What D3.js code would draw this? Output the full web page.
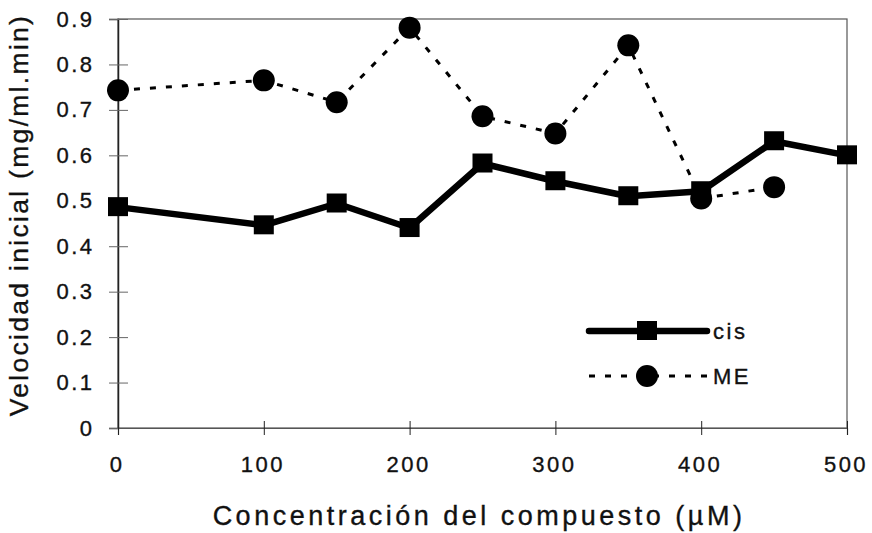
<!DOCTYPE html>
<html>
<head>
<meta charset="utf-8">
<script src="https://cdn.jsdelivr.net/npm/d3@7"></script>
<style>
  body { margin: 0; background: #fff; }
  text { font-family: "Liberation Sans", Arial, sans-serif; fill: #111; stroke: #111; stroke-width: 0.35; }
</style>
</head>
<body>
<script>
var w = 872;
var h = 533;

// data
var conc = [0, 100, 150, 200, 250, 300, 350, 400, 450, 500];
var cisValues = [0.486, 0.446, 0.494, 0.44, 0.582, 0.543, 0.51, 0.521, 0.631, 0.60];
var meConc = [0, 100, 150, 200, 250, 300, 350, 400, 450];
var meValues = [0.743, 0.765, 0.717, 0.881, 0.686, 0.648, 0.842, 0.505, 0.53];
var xTicks = [0, 100, 200, 300, 400, 500];
var yTicks = [0, 0.1, 0.2, 0.3, 0.4, 0.5, 0.6, 0.7, 0.8, 0.9];
var seriesNames = ["cis", "ME"];

var plotLeft = 118, plotRight = 847, plotTop = 19, plotBottom = 428;

var x = d3.scaleLinear().domain([0, 500]).range([plotLeft, plotRight]);
var y = d3.scaleLinear().domain([0, 0.9]).range([plotBottom, plotTop]);

var svg = d3.select("body").append("svg")
    .attr("width", w)
    .attr("height", h);

//---frame-----
svg.append("rect")
    .attr("x", plotLeft)
    .attr("y", plotTop)
    .attr("width", plotRight - plotLeft)
    .attr("height", plotBottom - plotTop)
    .attr("fill", "none")
    .attr("stroke", "#555")
    .attr("stroke-width", 1.2);

//---axes-----
var yAxis = svg.append("g")
    .attr("transform", "translate(" + plotLeft + ",0)")
    .call(d3.axisLeft(y).tickValues(yTicks).tickSize(9).tickPadding(14.5)
        .tickFormat(function (d) { return d === 0 ? "0" : d3.format(".1f")(d); }));
yAxis.select(".domain").attr("stroke", "#222").attr("stroke-width", 1.5);
yAxis.selectAll(".tick line").attr("x2", 10).attr("x1", -9).attr("stroke", "#666");
yAxis.selectAll("text").attr("font-size", 22).attr("fill", "#111")
    .attr("letter-spacing", 2.5)
    .attr("font-family", "Liberation Sans, Arial, sans-serif");

var xAxis = svg.append("g")
    .attr("transform", "translate(0," + plotBottom + ")")
    .call(d3.axisBottom(x).tickValues(xTicks).tickSize(7).tickPadding(21));
xAxis.select(".domain").attr("stroke", "#555").attr("stroke-width", 1.2);
xAxis.selectAll(".tick line").attr("y1", -7).attr("y2", 7).attr("stroke", "#222");
xAxis.selectAll("text").attr("font-size", 22).attr("fill", "#111")
    .attr("letter-spacing", 2.5)
    .attr("dx", -1.5)
    .attr("font-family", "Liberation Sans, Arial, sans-serif");

//---axis titles-----
svg.append("text")
    .text("Concentración del compuesto (µM)")
    .attr("x", 479)
    .attr("y", 525)
    .attr("text-anchor", "middle")
    .attr("font-size", 27)
    .attr("letter-spacing", 3.5);

svg.append("text")
    .text("Velocidad inicial (mg/ml.min)")
    .attr("transform", "translate(28,215) rotate(-90)")
    .attr("text-anchor", "middle")
    .attr("font-size", 26.5)
    .attr("letter-spacing", 2.3);

//---ME series-----
var meData = meConc.map(function (c, i) { return [c, meValues[i]]; });
var line = d3.line().x(function (d) { return x(d[0]); }).y(function (d) { return y(d[1]); });

svg.append("path")
    .datum(meData)
    .attr("d", line)
    .attr("fill", "none")
    .attr("stroke", "#000")
    .attr("stroke-width", 3)
    .attr("stroke-dasharray", "6,10");

svg.selectAll(".me")
    .data(meData)
    .enter().append("circle")
    .attr("cx", function (d) { return x(d[0]); })
    .attr("cy", function (d) { return y(d[1]); })
    .attr("r", 11)
    .attr("fill", "#000");

//---cis series-----
var cisData = conc.map(function (c, i) { return [c, cisValues[i]]; });

svg.append("path")
    .datum(cisData)
    .attr("d", line)
    .attr("fill", "none")
    .attr("stroke", "#000")
    .attr("stroke-width", 6.5)
    .attr("stroke-linejoin", "round");

svg.selectAll(".cis")
    .data(cisData)
    .enter().append("rect")
    .attr("x", function (d) { return x(d[0]) - 10; })
    .attr("y", function (d) { return y(d[1]) - 10; })
    .attr("width", 20)
    .attr("height", 19)
    .attr("fill", "#000");

//---legend-----
var legX1 = 589, legX2 = 707, legY = [331, 376];

svg.append("line")
    .attr("x1", legX1).attr("x2", legX2)
    .attr("y1", legY[0]).attr("y2", legY[0])
    .attr("stroke", "#000").attr("stroke-width", 6.5).attr("stroke-linecap", "round");
svg.append("rect")
    .attr("x", (legX1 + legX2) / 2 - 11).attr("y", legY[0] - 10)
    .attr("width", 20).attr("height", 19).attr("fill", "#000");

svg.append("line")
    .attr("x1", legX1).attr("x2", legX2)
    .attr("y1", legY[1]).attr("y2", legY[1])
    .attr("stroke", "#000").attr("stroke-width", 3).attr("stroke-dasharray", "6,10");
svg.append("circle")
    .attr("cx", (legX1 + legX2) / 2 - 1).attr("cy", legY[1])
    .attr("r", 11).attr("fill", "#000");

svg.selectAll(".legtext")
    .data(seriesNames)
    .enter().append("text")
    .text(function (d) { return d; })
    .attr("x", 713)
    .attr("y", function (d, i) { return legY[i] + 8; })
    .attr("font-size", 22)
    .attr("letter-spacing", 2.5);
</script>
</body>
</html>
